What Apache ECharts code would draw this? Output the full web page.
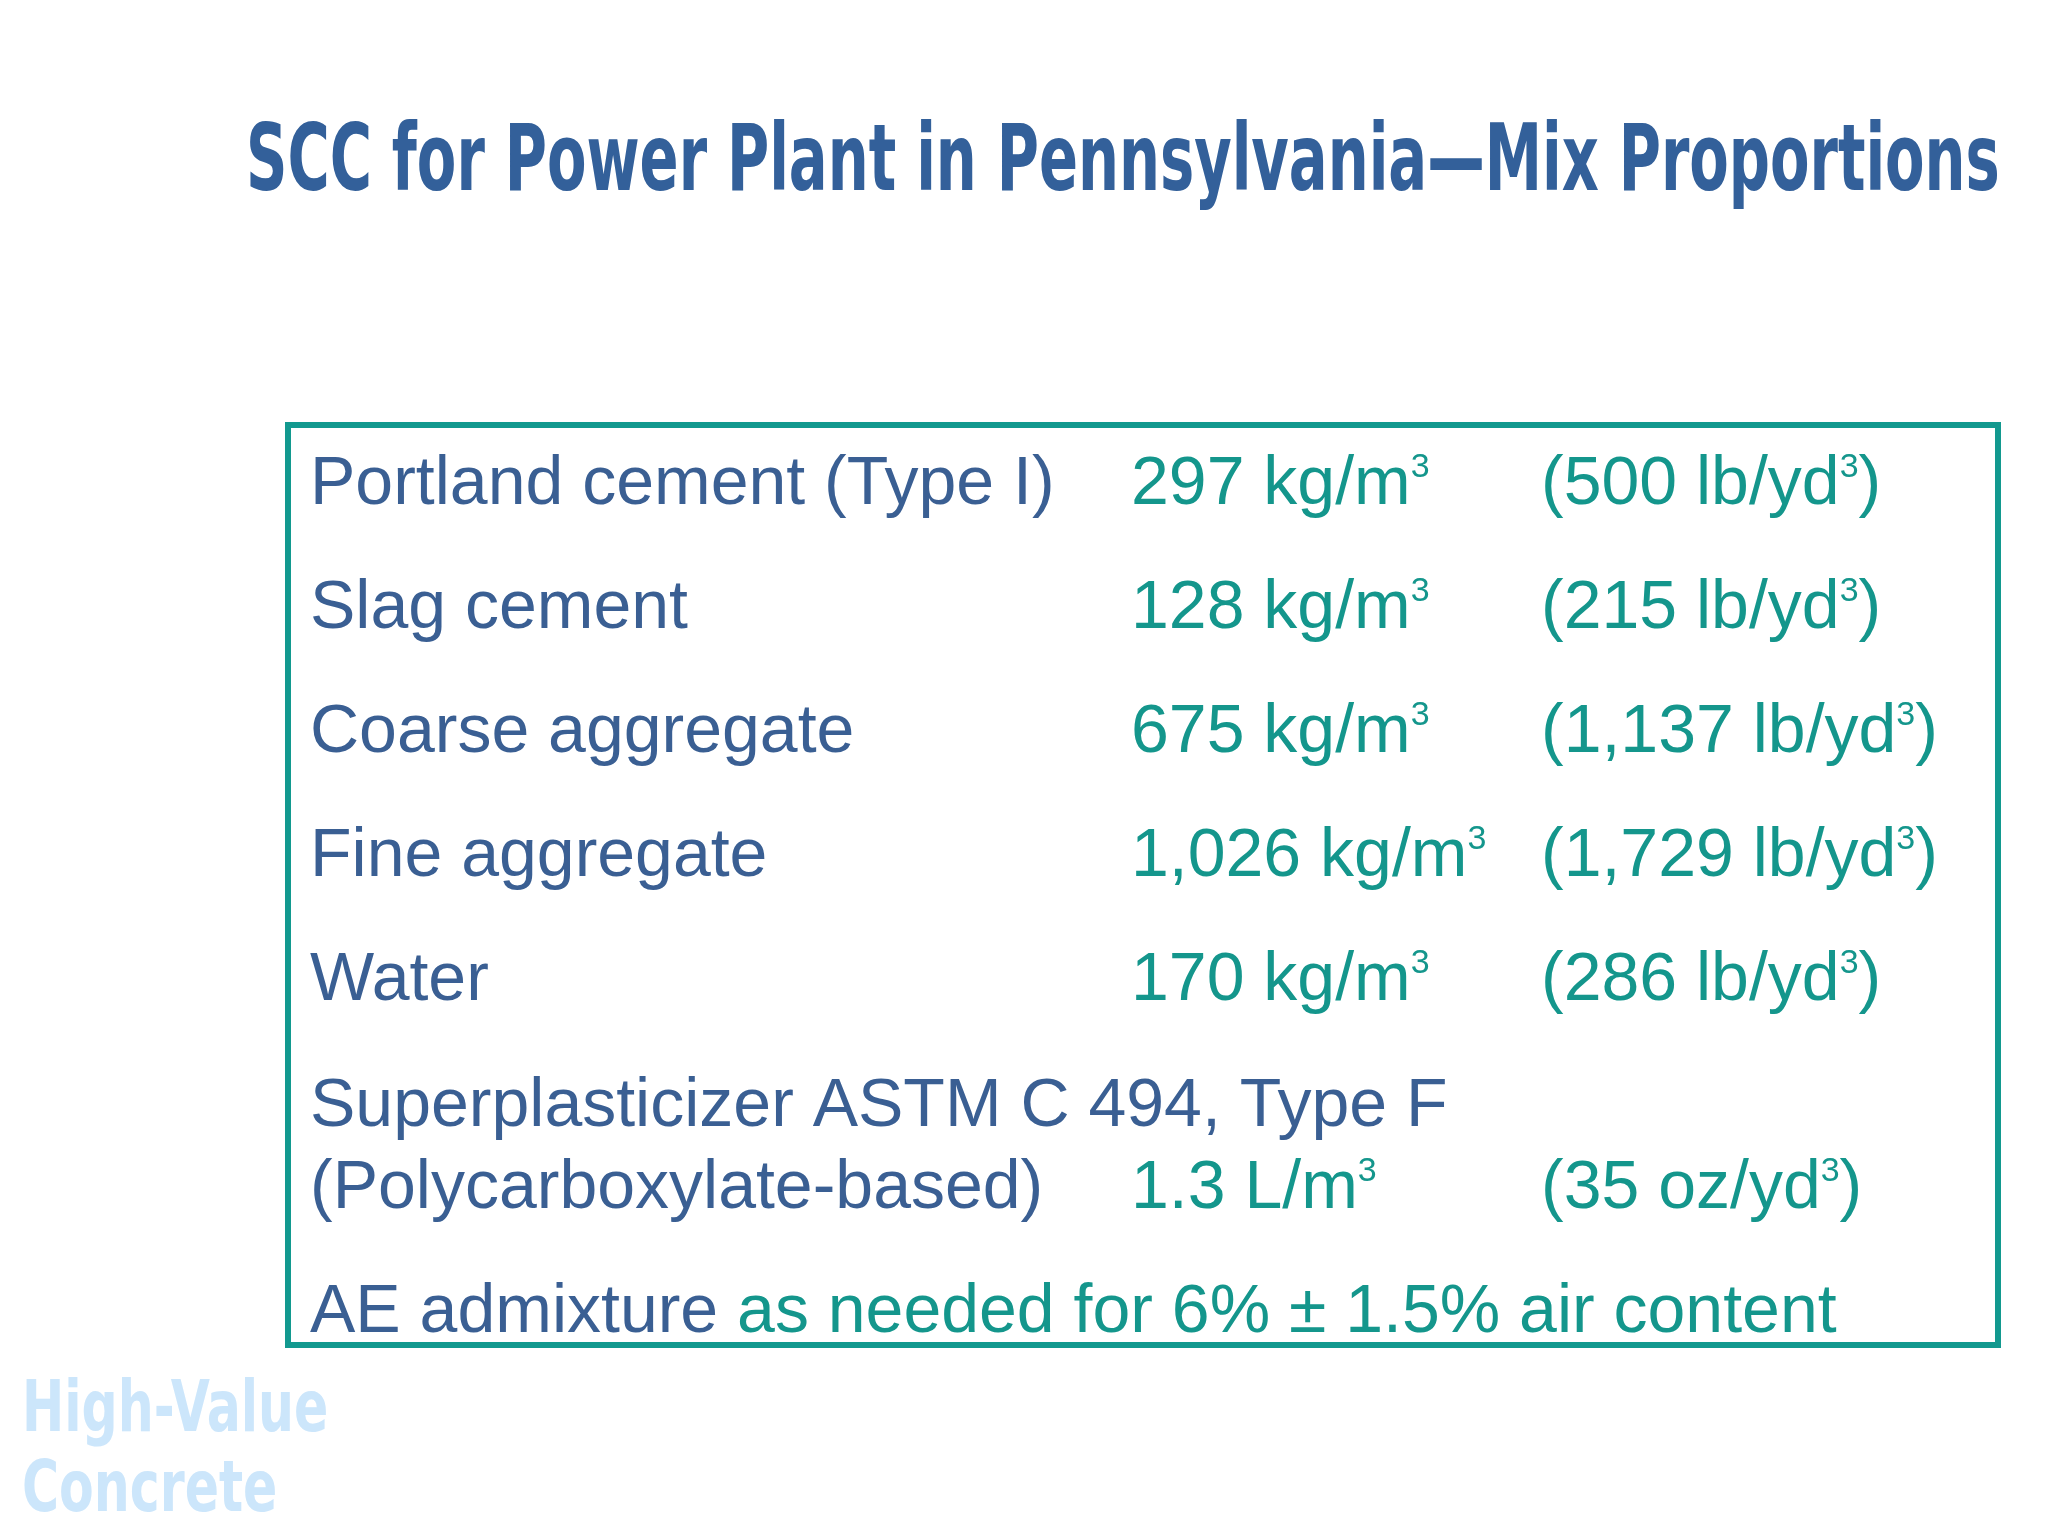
<!DOCTYPE html>
<html lang="en">
<head>
  <meta charset="UTF-8">
  <title>SCC Mix Proportions</title>
  <style>
    html, body { margin: 0; background: #fff; }
    #chart { width: 2048px; height: 1536px; }
  </style>
</head>
<body>
  <script src="https://cdn.jsdelivr.net/npm/echarts@6/dist/echarts.min.js"></script>
  <div id="chart"></div>
  <script>
    let chart = echarts.init(document.getElementById('chart'))

    // table data
    var materials = ['Portland cement (Type I)', 'Slag cement', 'Coarse aggregate', 'Fine aggregate', 'Water', '(Polycarboxylate-based)']
    var metric = ['297 kg/m', '128 kg/m', '675 kg/m', '1,026 kg/m', '170 kg/m', '1.3 L/m']
    var imperial = ['(500 lb/yd', '(215 lb/yd', '(1,137 lb/yd', '(1,729 lb/yd', '(286 lb/yd', '(35 oz/yd']
    var rowY = [485, 609, 733, 857, 981, 1189]

    var blue = '#3a5f93'
    var teal = '#14968c'
    var font = 'Liberation Sans'
    var fs = 68

    var rich = {
      t: { fontSize: fs, fontFamily: font, fill: teal },
      s: { fontSize: 34, fontFamily: font, fill: teal, verticalAlign: 'top', padding: [0, 0, 30, 0] }
    }

    var els = []
    // title
    els.push({
      type: 'text', x: 246, y: 166, scaleX: 0.695,
      style: { text: 'SCC for Power Plant in Pennsylvania\u2014Mix Proportions', fontSize: 92, fontWeight: 'bold',
        fontFamily: 'DejaVu Sans Condensed', fill: '#33609a', verticalAlign: 'middle' }
    })
    // box
    els.push({
      type: 'rect', shape: { x: 288, y: 425, width: 1710, height: 920 },
      style: { fill: 'none', stroke: '#12998f', lineWidth: 6 }
    })
    for (let i = 0; i < materials.length; i++) {
      els.push({ type: 'text', x: 310, y: rowY[i],
        style: { text: materials[i], fontSize: fs, fontFamily: font, fill: blue, verticalAlign: 'middle' } })
      els.push({ type: 'text', x: 1131, y: rowY[i],
        style: { text: '{t|' + metric[i] + '}{s|3}', rich: rich, verticalAlign: 'middle' } })
      els.push({ type: 'text', x: 1541, y: rowY[i],
        style: { text: '{t|' + imperial[i] + '}{s|3}{t|)}', rich: rich, verticalAlign: 'middle' } })
    }
    els.push({ type: 'text', x: 310, y: 1107,
      style: { text: 'Superplasticizer ASTM C 494, Type F', fontSize: fs, fontFamily: font, fill: blue, verticalAlign: 'middle' } })
    els.push({ type: 'text', x: 310, y: 1313,
      style: { text: '{b|AE admixture }{t|as needed for 6% \u00b1 1.5% air content}', verticalAlign: 'middle',
        rich: { b: { fontSize: fs, fontFamily: font, fill: blue }, t: rich.t } } })
    // watermark
    els.push({ type: 'text', x: 22, y: 1412, scaleX: 0.78,
      style: { text: 'High-Value', fontSize: 72, fontWeight: 'bold', fontFamily: 'DejaVu Sans Condensed', fill: '#cce6fb', verticalAlign: 'middle' } })
    els.push({ type: 'text', x: 22, y: 1492, scaleX: 0.78,
      style: { text: 'Concrete', fontSize: 72, fontWeight: 'bold', fontFamily: 'DejaVu Sans Condensed', fill: '#cce6fb', verticalAlign: 'middle' } })

    chart.setOption({ backgroundColor: '#ffffff', graphic: els })
  </script>
</body>
</html>
